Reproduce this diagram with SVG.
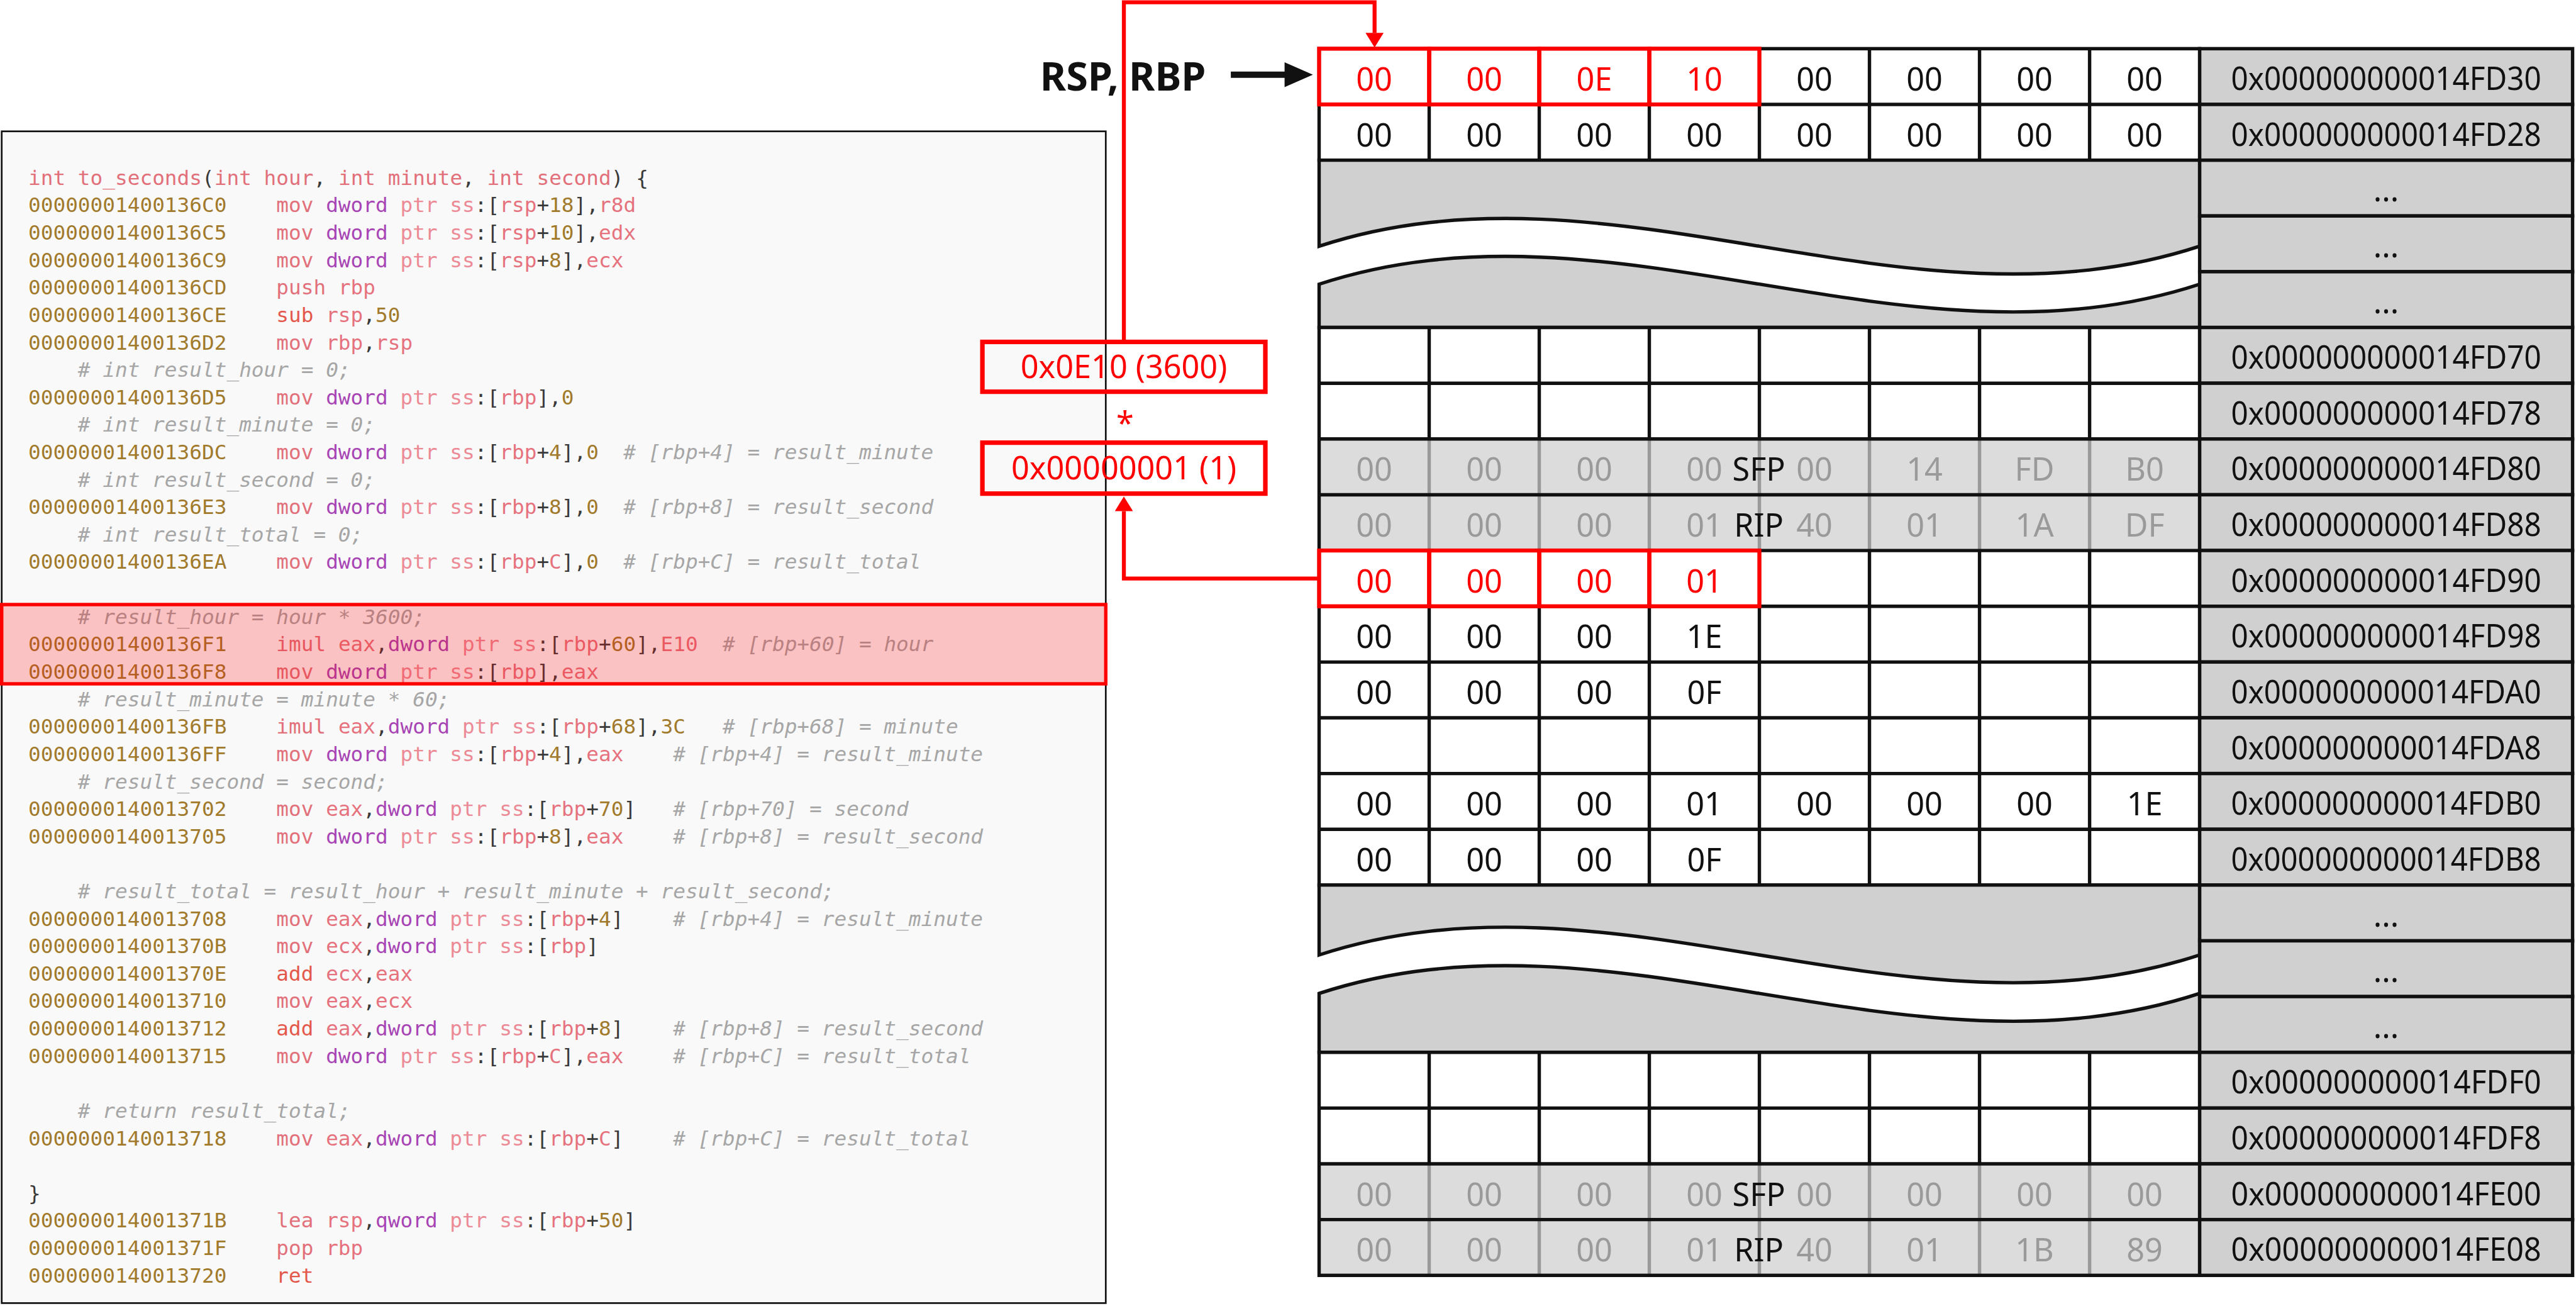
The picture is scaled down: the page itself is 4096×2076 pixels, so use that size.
<svg xmlns="http://www.w3.org/2000/svg" width="4096" height="2076" viewBox="0 0 4096 2076">
<defs>
<style>
.code{font-family:"DejaVu Sans Mono","Liberation Mono",monospace;font-size:36.4px;fill:#3a3a3a}
.a{fill:#A27A2C}
.m{fill:#E2707A}
.mr{fill:#E4584C}
.r{fill:#E6727E}
.p{fill:#EC8A96}
.k{fill:#A845B5}
.c{fill:#A6A6A6;font-style:italic}
.t{font-family:"Noto Sans","Open Sans",sans-serif;font-size:56px;text-anchor:middle}
.tb{fill:#111}
.tr{fill:#FF0000}
.tg{fill:#9A9A9A}
.white{fill:#fff;stroke:none}
.band{fill:#DCDCDC;stroke:none}
.outline{fill:none;stroke:#111;stroke-width:6}
.gl{stroke:#111;stroke-width:6}
.gg{stroke:#9A9A9A;stroke-width:6}
.addr{fill:#D0D0D0;stroke:#111;stroke-width:6}
.gap{fill:#D0D0D0;stroke:#111;stroke-width:6}
.redcell{fill:none;stroke:#FF0000;stroke-width:7}
.redbox{fill:none;stroke:#FF0000;stroke-width:8}
.redline{fill:none;stroke:#FF0000;stroke-width:7}
</style>
<marker id="ra" markerUnits="userSpaceOnUse" markerWidth="26" markerHeight="32" viewBox="0 0 26 32" refX="0" refY="16" orient="auto"><path d="M0,0 L26,16 L0,32 z" fill="#FF0000"/></marker>
</defs>
<rect width="4096" height="2076" fill="#fff"/>
<g transform="scale(0.89982)">

<g id="code-panel">
<rect x="3" y="232" width="1951" height="2070" fill="#F9F9F9" stroke="#111" stroke-width="3"/>
<text class="code" y="326.5"><tspan x="50" class="m">int to_seconds</tspan>(<tspan class="m">int hour</tspan>, <tspan class="m">int minute</tspan>, <tspan class="m">int second</tspan>) {</text>
<text class="code" y="375.0"><tspan x="50" class="a">00000001400136C0</tspan><tspan x="488.2"><tspan class="m">mov</tspan> <tspan class="k">dword</tspan> <tspan class="p">ptr ss</tspan>:[<tspan class="r">rsp</tspan>+<tspan class="a">18</tspan>],<tspan class="r">r8d</tspan></tspan></text>
<text class="code" y="423.5"><tspan x="50" class="a">00000001400136C5</tspan><tspan x="488.2"><tspan class="m">mov</tspan> <tspan class="k">dword</tspan> <tspan class="p">ptr ss</tspan>:[<tspan class="r">rsp</tspan>+<tspan class="a">10</tspan>],<tspan class="r">edx</tspan></tspan></text>
<text class="code" y="471.9"><tspan x="50" class="a">00000001400136C9</tspan><tspan x="488.2"><tspan class="m">mov</tspan> <tspan class="k">dword</tspan> <tspan class="p">ptr ss</tspan>:[<tspan class="r">rsp</tspan>+<tspan class="a">8</tspan>],<tspan class="r">ecx</tspan></tspan></text>
<text class="code" y="520.4"><tspan x="50" class="a">00000001400136CD</tspan><tspan x="488.2"><tspan class="m">push</tspan> <tspan class="r">rbp</tspan></tspan></text>
<text class="code" y="568.9"><tspan x="50" class="a">00000001400136CE</tspan><tspan x="488.2"><tspan class="mr">sub</tspan> <tspan class="r">rsp</tspan>,<tspan class="a">50</tspan></tspan></text>
<text class="code" y="617.4"><tspan x="50" class="a">00000001400136D2</tspan><tspan x="488.2"><tspan class="m">mov</tspan> <tspan class="r">rbp</tspan>,<tspan class="r">rsp</tspan></tspan></text>
<text class="code c" x="137.6" y="665.9"># int result_hour = 0;</text>
<text class="code" y="714.3"><tspan x="50" class="a">00000001400136D5</tspan><tspan x="488.2"><tspan class="m">mov</tspan> <tspan class="k">dword</tspan> <tspan class="p">ptr ss</tspan>:[<tspan class="r">rbp</tspan>],<tspan class="a">0</tspan></tspan></text>
<text class="code c" x="137.6" y="762.8"># int result_minute = 0;</text>
<text class="code" y="811.3"><tspan x="50" class="a">00000001400136DC</tspan><tspan x="488.2"><tspan class="m">mov</tspan> <tspan class="k">dword</tspan> <tspan class="p">ptr ss</tspan>:[<tspan class="r">rbp</tspan>+<tspan class="a">4</tspan>],<tspan class="a">0</tspan></tspan><tspan x="1101.7" class="c"># [rbp+4] = result_minute</tspan></text>
<text class="code c" x="137.6" y="859.8"># int result_second = 0;</text>
<text class="code" y="908.3"><tspan x="50" class="a">00000001400136E3</tspan><tspan x="488.2"><tspan class="m">mov</tspan> <tspan class="k">dword</tspan> <tspan class="p">ptr ss</tspan>:[<tspan class="r">rbp</tspan>+<tspan class="a">8</tspan>],<tspan class="a">0</tspan></tspan><tspan x="1101.7" class="c"># [rbp+8] = result_second</tspan></text>
<text class="code c" x="137.6" y="956.7"># int result_total = 0;</text>
<text class="code" y="1005.2"><tspan x="50" class="a">00000001400136EA</tspan><tspan x="488.2"><tspan class="m">mov</tspan> <tspan class="k">dword</tspan> <tspan class="p">ptr ss</tspan>:[<tspan class="r">rbp</tspan>+<tspan class="r">C</tspan>],<tspan class="a">0</tspan></tspan><tspan x="1101.7" class="c"># [rbp+C] = result_total</tspan></text>
<text class="code c" x="137.6" y="1102.2"># result_hour = hour * 3600;</text>
<text class="code" y="1150.7"><tspan x="50" class="a">00000001400136F1</tspan><tspan x="488.2"><tspan class="m">imul</tspan> <tspan class="r">eax</tspan>,<tspan class="k">dword</tspan> <tspan class="p">ptr ss</tspan>:[<tspan class="r">rbp</tspan>+<tspan class="a">60</tspan>],<tspan class="r">E10</tspan></tspan><tspan x="1277" class="c"># [rbp+60] = hour</tspan></text>
<text class="code" y="1199.1"><tspan x="50" class="a">00000001400136F8</tspan><tspan x="488.2"><tspan class="m">mov</tspan> <tspan class="k">dword</tspan> <tspan class="p">ptr ss</tspan>:[<tspan class="r">rbp</tspan>],<tspan class="r">eax</tspan></tspan></text>
<text class="code c" x="137.6" y="1247.6"># result_minute = minute * 60;</text>
<text class="code" y="1296.1"><tspan x="50" class="a">00000001400136FB</tspan><tspan x="488.2"><tspan class="m">imul</tspan> <tspan class="r">eax</tspan>,<tspan class="k">dword</tspan> <tspan class="p">ptr ss</tspan>:[<tspan class="r">rbp</tspan>+<tspan class="a">68</tspan>],<tspan class="a">3C</tspan></tspan><tspan x="1277" class="c"># [rbp+68] = minute</tspan></text>
<text class="code" y="1344.6"><tspan x="50" class="a">00000001400136FF</tspan><tspan x="488.2"><tspan class="m">mov</tspan> <tspan class="k">dword</tspan> <tspan class="p">ptr ss</tspan>:[<tspan class="r">rbp</tspan>+<tspan class="a">4</tspan>],<tspan class="r">eax</tspan></tspan><tspan x="1189.3" class="c"># [rbp+4] = result_minute</tspan></text>
<text class="code c" x="137.6" y="1393.1"># result_second = second;</text>
<text class="code" y="1441.5"><tspan x="50" class="a">0000000140013702</tspan><tspan x="488.2"><tspan class="m">mov</tspan> <tspan class="r">eax</tspan>,<tspan class="k">dword</tspan> <tspan class="p">ptr ss</tspan>:[<tspan class="r">rbp</tspan>+<tspan class="a">70</tspan>]</tspan><tspan x="1189.3" class="c"># [rbp+70] = second</tspan></text>
<text class="code" y="1490.0"><tspan x="50" class="a">0000000140013705</tspan><tspan x="488.2"><tspan class="m">mov</tspan> <tspan class="k">dword</tspan> <tspan class="p">ptr ss</tspan>:[<tspan class="r">rbp</tspan>+<tspan class="a">8</tspan>],<tspan class="r">eax</tspan></tspan><tspan x="1189.3" class="c"># [rbp+8] = result_second</tspan></text>
<text class="code c" x="137.6" y="1587.0"># result_total = result_hour + result_minute + result_second;</text>
<text class="code" y="1635.5"><tspan x="50" class="a">0000000140013708</tspan><tspan x="488.2"><tspan class="m">mov</tspan> <tspan class="r">eax</tspan>,<tspan class="k">dword</tspan> <tspan class="p">ptr ss</tspan>:[<tspan class="r">rbp</tspan>+<tspan class="a">4</tspan>]</tspan><tspan x="1189.3" class="c"># [rbp+4] = result_minute</tspan></text>
<text class="code" y="1683.9"><tspan x="50" class="a">000000014001370B</tspan><tspan x="488.2"><tspan class="m">mov</tspan> <tspan class="r">ecx</tspan>,<tspan class="k">dword</tspan> <tspan class="p">ptr ss</tspan>:[<tspan class="r">rbp</tspan>]</tspan></text>
<text class="code" y="1732.4"><tspan x="50" class="a">000000014001370E</tspan><tspan x="488.2"><tspan class="mr">add</tspan> <tspan class="r">ecx</tspan>,<tspan class="r">eax</tspan></tspan></text>
<text class="code" y="1780.9"><tspan x="50" class="a">0000000140013710</tspan><tspan x="488.2"><tspan class="m">mov</tspan> <tspan class="r">eax</tspan>,<tspan class="r">ecx</tspan></tspan></text>
<text class="code" y="1829.4"><tspan x="50" class="a">0000000140013712</tspan><tspan x="488.2"><tspan class="mr">add</tspan> <tspan class="r">eax</tspan>,<tspan class="k">dword</tspan> <tspan class="p">ptr ss</tspan>:[<tspan class="r">rbp</tspan>+<tspan class="a">8</tspan>]</tspan><tspan x="1189.3" class="c"># [rbp+8] = result_second</tspan></text>
<text class="code" y="1877.9"><tspan x="50" class="a">0000000140013715</tspan><tspan x="488.2"><tspan class="m">mov</tspan> <tspan class="k">dword</tspan> <tspan class="p">ptr ss</tspan>:[<tspan class="r">rbp</tspan>+<tspan class="r">C</tspan>],<tspan class="r">eax</tspan></tspan><tspan x="1189.3" class="c"># [rbp+C] = result_total</tspan></text>
<text class="code c" x="137.6" y="1974.8"># return result_total;</text>
<text class="code" y="2023.3"><tspan x="50" class="a">0000000140013718</tspan><tspan x="488.2"><tspan class="m">mov</tspan> <tspan class="r">eax</tspan>,<tspan class="k">dword</tspan> <tspan class="p">ptr ss</tspan>:[<tspan class="r">rbp</tspan>+<tspan class="r">C</tspan>]</tspan><tspan x="1189.3" class="c"># [rbp+C] = result_total</tspan></text>
<text class="code" x="50" y="2120.3">}</text>
<text class="code" y="2168.7"><tspan x="50" class="a">000000014001371B</tspan><tspan x="488.2"><tspan class="m">lea</tspan> <tspan class="r">rsp</tspan>,<tspan class="k">qword</tspan> <tspan class="p">ptr ss</tspan>:[<tspan class="r">rbp</tspan>+<tspan class="a">50</tspan>]</tspan></text>
<text class="code" y="2217.2"><tspan x="50" class="a">000000014001371F</tspan><tspan x="488.2"><tspan class="m">pop</tspan> <tspan class="r">rbp</tspan></tspan></text>
<text class="code" y="2265.7"><tspan x="50" class="a">0000000140013720</tspan><tspan x="488.2"><tspan class="mr">ret</tspan></tspan></text>
<rect id="highlight" x="3" y="1068" width="1951" height="140" fill="#FF0000" fill-opacity="0.22" stroke="#FF0000" stroke-width="6"/>
</g>

<g id="memory-table">
<rect class="white" x="2331" y="86" width="1556" height="197"/>
<g class="gl">
<line x1="2331" y1="184.5" x2="3887" y2="184.5"/>
<line x1="2525.5" y1="86" x2="2525.5" y2="283"/><line x1="2720" y1="86" x2="2720" y2="283"/><line x1="2914.5" y1="86" x2="2914.5" y2="283"/><line x1="3109" y1="86" x2="3109" y2="283"/><line x1="3303.5" y1="86" x2="3303.5" y2="283"/><line x1="3498" y1="86" x2="3498" y2="283"/><line x1="3692.5" y1="86" x2="3692.5" y2="283"/>
</g>
<rect class="outline" x="2331" y="86" width="1556" height="197"/>

<path class="gap" d="M2331,283 H3887 V435 C3368,605 2850,265 2331,435 Z"/>
<path class="gap" d="M2331,502 C2850,332 3368,672 3887,502 V578.5 H2331 Z"/>

<rect class="white" x="2331" y="578.5" width="1556" height="985"/>
<rect class="band" x="2331" y="775.5" width="1556" height="197"/>
<g class="gl">
<line x1="2525.5" y1="578.5" x2="2525.5" y2="775.5"/><line x1="2720" y1="578.5" x2="2720" y2="775.5"/><line x1="2914.5" y1="578.5" x2="2914.5" y2="775.5"/><line x1="3109" y1="578.5" x2="3109" y2="775.5"/><line x1="3303.5" y1="578.5" x2="3303.5" y2="775.5"/><line x1="3498" y1="578.5" x2="3498" y2="775.5"/><line x1="3692.5" y1="578.5" x2="3692.5" y2="775.5"/>
<line x1="2525.5" y1="972.5" x2="2525.5" y2="1563.5"/><line x1="2720" y1="972.5" x2="2720" y2="1563.5"/><line x1="2914.5" y1="972.5" x2="2914.5" y2="1563.5"/><line x1="3109" y1="972.5" x2="3109" y2="1563.5"/><line x1="3303.5" y1="972.5" x2="3303.5" y2="1563.5"/><line x1="3498" y1="972.5" x2="3498" y2="1563.5"/><line x1="3692.5" y1="972.5" x2="3692.5" y2="1563.5"/>
</g>
<g class="gg">
<line x1="2525.5" y1="775.5" x2="2525.5" y2="972.5"/><line x1="2720" y1="775.5" x2="2720" y2="972.5"/><line x1="2914.5" y1="775.5" x2="2914.5" y2="972.5"/><line x1="3109" y1="775.5" x2="3109" y2="972.5"/><line x1="3303.5" y1="775.5" x2="3303.5" y2="972.5"/><line x1="3498" y1="775.5" x2="3498" y2="972.5"/><line x1="3692.5" y1="775.5" x2="3692.5" y2="972.5"/>
</g>
<g class="gl">
<line x1="2331" y1="677" x2="3887" y2="677"/><line x1="2331" y1="775.5" x2="3887" y2="775.5"/><line x1="2331" y1="874" x2="3887" y2="874"/><line x1="2331" y1="972.5" x2="3887" y2="972.5"/><line x1="2331" y1="1071" x2="3887" y2="1071"/><line x1="2331" y1="1169.5" x2="3887" y2="1169.5"/><line x1="2331" y1="1268" x2="3887" y2="1268"/><line x1="2331" y1="1366.5" x2="3887" y2="1366.5"/><line x1="2331" y1="1465" x2="3887" y2="1465"/>
</g>
<rect class="outline" x="2331" y="578.5" width="1556" height="985"/>

<path class="gap" d="M2331,1563.5 H3887 V1687 C3368,1857 2850,1517 2331,1687 Z"/>
<path class="gap" d="M2331,1755 C2850,1585 3368,1925 3887,1755 V1859 H2331 Z"/>

<rect class="white" x="2331" y="1859" width="1556" height="394"/>
<rect class="band" x="2331" y="2056" width="1556" height="197"/>
<g class="gl">
<line x1="2525.5" y1="1859" x2="2525.5" y2="2056"/><line x1="2720" y1="1859" x2="2720" y2="2056"/><line x1="2914.5" y1="1859" x2="2914.5" y2="2056"/><line x1="3109" y1="1859" x2="3109" y2="2056"/><line x1="3303.5" y1="1859" x2="3303.5" y2="2056"/><line x1="3498" y1="1859" x2="3498" y2="2056"/><line x1="3692.5" y1="1859" x2="3692.5" y2="2056"/>
</g>
<g class="gg">
<line x1="2525.5" y1="2056" x2="2525.5" y2="2253"/><line x1="2720" y1="2056" x2="2720" y2="2253"/><line x1="2914.5" y1="2056" x2="2914.5" y2="2253"/><line x1="3109" y1="2056" x2="3109" y2="2253"/><line x1="3303.5" y1="2056" x2="3303.5" y2="2253"/><line x1="3498" y1="2056" x2="3498" y2="2253"/><line x1="3692.5" y1="2056" x2="3692.5" y2="2253"/>
</g>
<g class="gl">
<line x1="2331" y1="1957.5" x2="3887" y2="1957.5"/><line x1="2331" y1="2056" x2="3887" y2="2056"/><line x1="2331" y1="2154.5" x2="3887" y2="2154.5"/>
</g>
<rect class="outline" x="2331" y="1859" width="1556" height="394"/>

<g id="address-column">
<rect class="addr" x="3887" y="86" width="659" height="98.5"/>
<rect class="addr" x="3887" y="184.5" width="659" height="98.5"/>
<rect class="addr" x="3887" y="283" width="659" height="98.5"/>
<rect class="addr" x="3887" y="381.5" width="659" height="98.5"/>
<rect class="addr" x="3887" y="480" width="659" height="98.5"/>
<rect class="addr" x="3887" y="578.5" width="659" height="98.5"/>
<rect class="addr" x="3887" y="677" width="659" height="98.5"/>
<rect class="addr" x="3887" y="775.5" width="659" height="98.5"/>
<rect class="addr" x="3887" y="874" width="659" height="98.5"/>
<rect class="addr" x="3887" y="972.5" width="659" height="98.5"/>
<rect class="addr" x="3887" y="1071" width="659" height="98.5"/>
<rect class="addr" x="3887" y="1169.5" width="659" height="98.5"/>
<rect class="addr" x="3887" y="1268" width="659" height="98.5"/>
<rect class="addr" x="3887" y="1366.5" width="659" height="98.5"/>
<rect class="addr" x="3887" y="1465" width="659" height="98.5"/>
<rect class="addr" x="3887" y="1563.5" width="659" height="98.5"/>
<rect class="addr" x="3887" y="1662" width="659" height="98.5"/>
<rect class="addr" x="3887" y="1760.5" width="659" height="98.5"/>
<rect class="addr" x="3887" y="1859" width="659" height="98.5"/>
<rect class="addr" x="3887" y="1957.5" width="659" height="98.5"/>
<rect class="addr" x="3887" y="2056" width="659" height="98.5"/>
<rect class="addr" x="3887" y="2154.5" width="659" height="98.5"/>
<g class="t tb">
<text x="4216.5" y="159" textLength="548" lengthAdjust="spacingAndGlyphs">0x000000000014FD30</text>
<text x="4216.5" y="257.5" textLength="548" lengthAdjust="spacingAndGlyphs">0x000000000014FD28</text>
<text x="4216.5" y="356">...</text>
<text x="4216.5" y="454.5">...</text>
<text x="4216.5" y="553">...</text>
<text x="4216.5" y="651.5" textLength="548" lengthAdjust="spacingAndGlyphs">0x000000000014FD70</text>
<text x="4216.5" y="750" textLength="548" lengthAdjust="spacingAndGlyphs">0x000000000014FD78</text>
<text x="4216.5" y="848.5" textLength="548" lengthAdjust="spacingAndGlyphs">0x000000000014FD80</text>
<text x="4216.5" y="947" textLength="548" lengthAdjust="spacingAndGlyphs">0x000000000014FD88</text>
<text x="4216.5" y="1045.5" textLength="548" lengthAdjust="spacingAndGlyphs">0x000000000014FD90</text>
<text x="4216.5" y="1144" textLength="548" lengthAdjust="spacingAndGlyphs">0x000000000014FD98</text>
<text x="4216.5" y="1242.5" textLength="548" lengthAdjust="spacingAndGlyphs">0x000000000014FDA0</text>
<text x="4216.5" y="1341" textLength="548" lengthAdjust="spacingAndGlyphs">0x000000000014FDA8</text>
<text x="4216.5" y="1439.5" textLength="548" lengthAdjust="spacingAndGlyphs">0x000000000014FDB0</text>
<text x="4216.5" y="1538" textLength="548" lengthAdjust="spacingAndGlyphs">0x000000000014FDB8</text>
<text x="4216.5" y="1636.5">...</text>
<text x="4216.5" y="1735">...</text>
<text x="4216.5" y="1833.5">...</text>
<text x="4216.5" y="1932" textLength="548" lengthAdjust="spacingAndGlyphs">0x000000000014FDF0</text>
<text x="4216.5" y="2030.5" textLength="548" lengthAdjust="spacingAndGlyphs">0x000000000014FDF8</text>
<text x="4216.5" y="2129" textLength="548" lengthAdjust="spacingAndGlyphs">0x000000000014FE00</text>
<text x="4216.5" y="2227.5" textLength="548" lengthAdjust="spacingAndGlyphs">0x000000000014FE08</text>
</g>
</g>

<g id="rsp-cells">
<rect class="redcell" x="2331" y="86" width="194.5" height="98.5"/>
<rect class="redcell" x="2525.5" y="86" width="194.5" height="98.5"/>
<rect class="redcell" x="2720" y="86" width="194.5" height="98.5"/>
<rect class="redcell" x="2914.5" y="86" width="194.5" height="98.5"/>
</g>
<g id="hour-cells">
<rect class="redcell" x="2331" y="972.5" width="194.5" height="98.5"/>
<rect class="redcell" x="2525.5" y="972.5" width="194.5" height="98.5"/>
<rect class="redcell" x="2720" y="972.5" width="194.5" height="98.5"/>
<rect class="redcell" x="2914.5" y="972.5" width="194.5" height="98.5"/>
</g>

<g class="t">
<text class="tr" y="160"><tspan x="2428.25">00</tspan><tspan x="2622.75">00</tspan><tspan x="2817.25">0E</tspan><tspan x="3011.75">10</tspan></text>
<text class="tb" y="160"><tspan x="3206.25">00</tspan><tspan x="3400.75">00</tspan><tspan x="3595.25">00</tspan><tspan x="3789.75">00</tspan></text>
<text class="tb" y="258.5"><tspan x="2428.25">00</tspan><tspan x="2622.75">00</tspan><tspan x="2817.25">00</tspan><tspan x="3011.75">00</tspan><tspan x="3206.25">00</tspan><tspan x="3400.75">00</tspan><tspan x="3595.25">00</tspan><tspan x="3789.75">00</tspan></text>
<text class="tg" y="849.5"><tspan x="2428.25">00</tspan><tspan x="2622.75">00</tspan><tspan x="2817.25">00</tspan><tspan x="3011.75">00</tspan><tspan x="3206.25">00</tspan><tspan x="3400.75">14</tspan><tspan x="3595.25">FD</tspan><tspan x="3789.75">B0</tspan></text>
<text class="tg" y="948"><tspan x="2428.25">00</tspan><tspan x="2622.75">00</tspan><tspan x="2817.25">00</tspan><tspan x="3011.75">01</tspan><tspan x="3206.25">40</tspan><tspan x="3400.75">01</tspan><tspan x="3595.25">1A</tspan><tspan x="3789.75">DF</tspan></text>
<text class="tb" x="3108" y="849.5">SFP</text>
<text class="tb" x="3108" y="948">RIP</text>
<text class="tr" y="1046.5"><tspan x="2428.25">00</tspan><tspan x="2622.75">00</tspan><tspan x="2817.25">00</tspan><tspan x="3011.75">01</tspan></text>
<text class="tb" y="1145"><tspan x="2428.25">00</tspan><tspan x="2622.75">00</tspan><tspan x="2817.25">00</tspan><tspan x="3011.75">1E</tspan></text>
<text class="tb" y="1243.5"><tspan x="2428.25">00</tspan><tspan x="2622.75">00</tspan><tspan x="2817.25">00</tspan><tspan x="3011.75">0F</tspan></text>
<text class="tb" y="1440.5"><tspan x="2428.25">00</tspan><tspan x="2622.75">00</tspan><tspan x="2817.25">00</tspan><tspan x="3011.75">01</tspan><tspan x="3206.25">00</tspan><tspan x="3400.75">00</tspan><tspan x="3595.25">00</tspan><tspan x="3789.75">1E</tspan></text>
<text class="tb" y="1539"><tspan x="2428.25">00</tspan><tspan x="2622.75">00</tspan><tspan x="2817.25">00</tspan><tspan x="3011.75">0F</tspan></text>
<text class="tg" y="2130"><tspan x="2428.25">00</tspan><tspan x="2622.75">00</tspan><tspan x="2817.25">00</tspan><tspan x="3011.75">00</tspan><tspan x="3206.25">00</tspan><tspan x="3400.75">00</tspan><tspan x="3595.25">00</tspan><tspan x="3789.75">00</tspan></text>
<text class="tg" y="2228.5"><tspan x="2428.25">00</tspan><tspan x="2622.75">00</tspan><tspan x="2817.25">00</tspan><tspan x="3011.75">01</tspan><tspan x="3206.25">40</tspan><tspan x="3400.75">01</tspan><tspan x="3595.25">1B</tspan><tspan x="3789.75">89</tspan></text>
<text class="tb" x="3108" y="2130">SFP</text>
<text class="tb" x="3108" y="2228.5">RIP</text>
</g>
</g>

<g id="box-3600">
<rect class="redbox" x="1736" y="604" width="500" height="88"/>
<text class="t tr" x="1986" y="668">0x0E10 (3600)</text>
</g>
<g id="multiply-sign">
<text class="t tr" x="1988" y="768">*</text>
</g>
<g id="box-1">
<rect class="redbox" x="1736" y="782" width="500" height="90"/>
<text class="t tr" x="1986" y="847">0x00000001 (1)</text>
</g>
<g id="label-rsp-rbp">
<text x="1838" y="160" font-family="'Noto Sans','Open Sans',sans-serif" font-size="70" font-weight="bold" fill="#111">RSP, RBP</text>
</g>

<g id="connectors">
<path class="redline" d="M1986,604 V4 H2429 V58" marker-end="url(#ra)"/>
<path class="redline" d="M2331,1022 H1986 V903" marker-end="url(#ra)"/>
<line x1="2175" y1="132" x2="2276" y2="132" stroke="#111" stroke-width="11"/>
<polygon points="2270,110 2320,132 2270,154" fill="#111"/>
</g>

</g>
</svg>
